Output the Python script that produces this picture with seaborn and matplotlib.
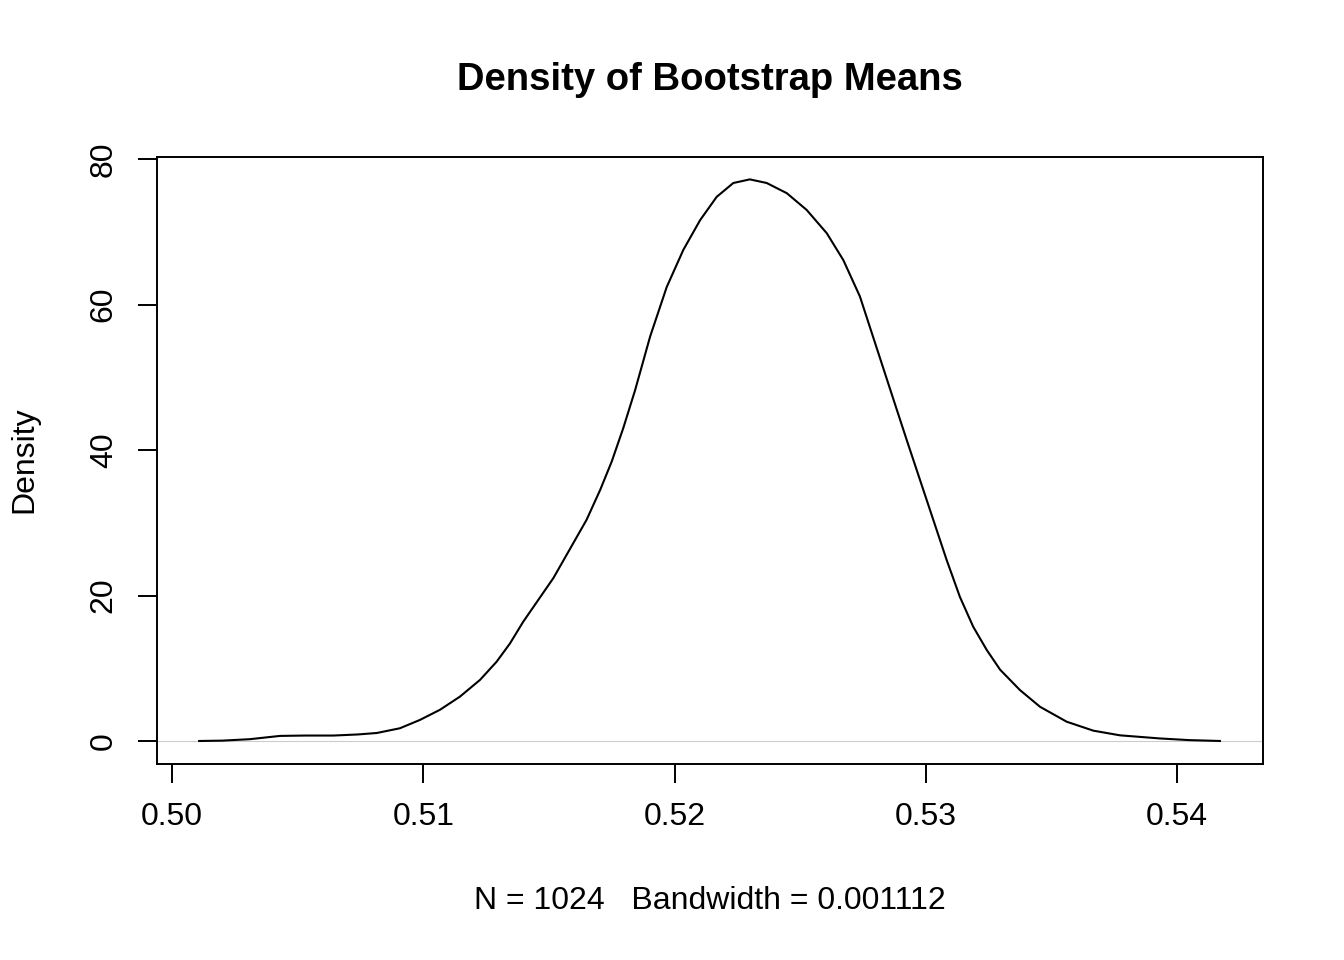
import matplotlib
matplotlib.use("Agg")
import matplotlib.pyplot as plt
import seaborn as sns
import pandas as pd

# values
boot_mean = [0.50104, 0.50200, 0.50310, 0.50430, 0.50530, 0.50642, 0.50740, 0.50815,
             0.50907, 0.50987, 0.51067, 0.51146, 0.51226, 0.51292, 0.51345, 0.51398,
             0.51452, 0.51518, 0.51584, 0.51650, 0.51704, 0.51750, 0.51796, 0.51843,
             0.51903, 0.51969, 0.52035, 0.52102, 0.52168, 0.52234, 0.52300, 0.52367,
             0.52447, 0.52526, 0.52606, 0.52672, 0.52738, 0.52805, 0.52871, 0.52924,
             0.52977, 0.53030, 0.53083, 0.53136, 0.53189, 0.53243, 0.53296, 0.53375,
             0.53455, 0.53561, 0.53667, 0.53773, 0.53932, 0.54050, 0.54175]
density = [0.0, 0.05, 0.25, 0.7, 0.75, 0.75, 0.9, 1.1,
           1.75, 2.9, 4.3, 6.1, 8.4, 10.9, 13.4, 16.4,
           19.1, 22.4, 26.4, 30.4, 34.5, 38.4, 43.0, 48.2,
           55.6, 62.4, 67.5, 71.6, 74.8, 76.7, 77.2, 76.7,
           75.3, 73.0, 69.8, 66.1, 61.1, 54.0, 47.0, 41.4,
           35.9, 30.4, 24.9, 19.8, 15.7, 12.5, 9.8, 7.0,
           4.7, 2.65, 1.42, 0.78, 0.35, 0.12, 0.0]

x_ticks = [0.50, 0.51, 0.52, 0.53, 0.54]
x_tick_labels = ["0.50", "0.51", "0.52", "0.53", "0.54"]
y_ticks = [0, 20, 40, 60, 80]

title = "Density of Bootstrap Means"
sub_label = "N = 1024   Bandwidth = 0.001112"

sns.set_style("white")
plt.rcParams['font.family'] = ['Liberation Sans', 'DejaVu Sans']
plt.rcParams['text.color'] = 'black'
plt.rcParams['axes.labelcolor'] = 'black'

df = pd.DataFrame({"x": boot_mean, "density": density})

fig = plt.figure(figsize=(13.44, 9.6), dpi=100)
ax = fig.add_axes([157 / 1344, 1 - 764 / 960, (1263 - 157) / 1344, (764 - 157) / 960])

# zero line like R's plot.density
ax.axhline(0, color="#CCCCCC", lw=0.8, zorder=1)
sns.lineplot(data=df, x="x", y="density", color="black", lw=1.5, ax=ax,
             estimator=None, zorder=2, solid_joinstyle="round", solid_capstyle="butt")

ax.set_xlim(0.50 - 15 / 25125, 0.50 + (1263 - 172) / 25125)
ax.set_ylim(-(764 - 741) / 7.275, (741 - 157) / 7.275)

ax.set_xticks(x_ticks)
ax.set_xticklabels(x_tick_labels)
ax.set_yticks(y_ticks)
ax.set_yticklabels([str(v) for v in y_ticks], rotation=90, va="center")

ax.tick_params(axis="both", direction="out", length=13.5, width=1.4,
               labelsize=23, color="black", labelcolor="black",
               bottom=True, left=True)
ax.tick_params(axis="x", pad=14)
ax.tick_params(axis="y", pad=14)

for sp in ax.spines.values():
    sp.set_visible(True)
    sp.set_color("black")
    sp.set_linewidth(1.4)

ax.set_xlabel("")
ax.set_ylabel("")
fig.text(710 / 1344, 1 - 80 / 960, title, ha="center", va="center",
         fontsize=27.5, fontweight="bold", color="black")
fig.text(710 / 1344, 1 - 901 / 960, sub_label, ha="center", va="center",
         fontsize=23, color="black")
fig.text(24 / 1344, 1 - 460 / 960, "Density", ha="center", va="center",
         fontsize=23, rotation=90, color="black")

fig.savefig("out.png", dpi=100, facecolor="white")
